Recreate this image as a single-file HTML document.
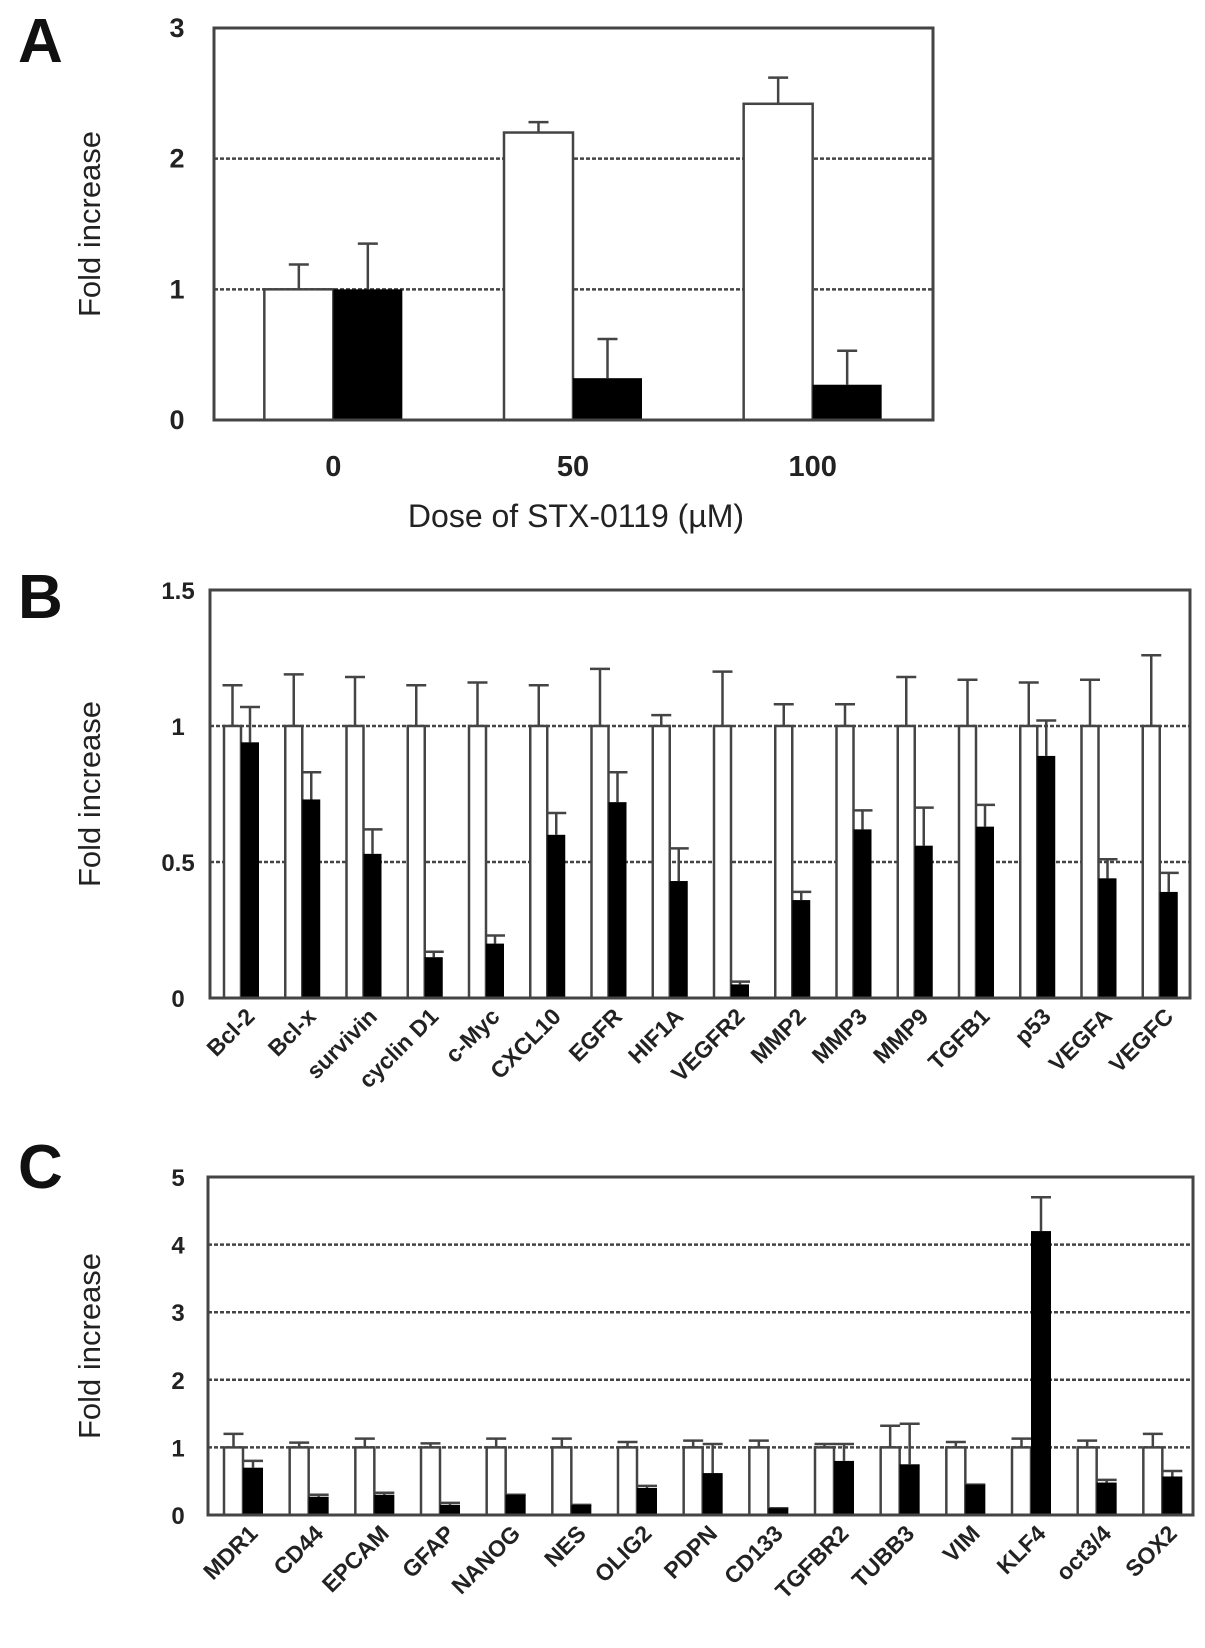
<!DOCTYPE html>
<html><head><meta charset="utf-8"><style>
html,body{margin:0;padding:0;background:#fff;}
svg{display:block;font-family:"Liberation Sans",Arial,sans-serif;}
</style></head><body>
<svg id="fig" width="1205" height="1648" viewBox="0 0 1205 1648" xmlns="http://www.w3.org/2000/svg"></svg>
<script>
const NS="http://www.w3.org/2000/svg";
const svg=document.getElementById('fig');
// Panel A data
const aCats=["0","50","100"];
const aWhite=[1,2.2,2.42];
const aWhiteErr=[1.19,2.28,2.62];
const aBlack=[1,0.32,0.27];
const aBlackErr=[1.35,0.62,0.53];
const aTicks=[0,1,2,3];
// Panel B data
const bCats=["Bcl-2","Bcl-x","survivin","cyclin D1","c-Myc","CXCL10","EGFR","HIF1A","VEGFR2","MMP2","MMP3","MMP9","TGFB1","p53","VEGFA","VEGFC"];
const bWhite=[1,1,1,1,1,1,1,1,1,1,1,1,1,1,1,1];
const bWhiteErr=[1.15,1.19,1.18,1.15,1.16,1.15,1.21,1.04,1.2,1.08,1.08,1.18,1.17,1.16,1.17,1.26];
const bBlack=[0.94,0.73,0.53,0.15,0.2,0.6,0.72,0.43,0.05,0.36,0.62,0.56,0.63,0.89,0.44,0.39];
const bBlackErr=[1.07,0.83,0.62,0.17,0.23,0.68,0.83,0.55,0.06,0.39,0.69,0.7,0.71,1.02,0.51,0.46];
const bTicks=[0,0.5,1,1.5];
const bTickLabels=["0","0.5","1","1.5"];
// Panel C data
const cCats=["MDR1","CD44","EPCAM","GFAP","NANOG","NES","OLIG2","PDPN","CD133","TGFBR2","TUBB3","VIM","KLF4","oct3/4","SOX2"];
const cWhite=[1,1,1,1,1,1,1,1,1,1,1,1,1,1,1];
const cWhiteErr=[1.2,1.07,1.13,1.06,1.13,1.13,1.08,1.1,1.1,1.05,1.32,1.08,1.13,1.1,1.2];
const cBlack=[0.7,0.27,0.3,0.15,0.3,0.15,0.4,0.62,0.1,0.8,0.75,0.45,4.2,0.48,0.57];
const cBlackErr=[0.8,0.3,0.33,0.18,0.3,0.15,0.43,1.05,0.1,1.05,1.35,0.45,4.7,0.52,0.65];
const cTicks=[0,1,2,3,4,5];

function el(tag,attrs,parent,text){const e=document.createElementNS(NS,tag);for(const k in attrs)e.setAttribute(k,attrs[k]);if(text!==undefined)e.textContent=text;(parent||svg).appendChild(e);return e;}

function panel(o){
  const g=el('g',{});
  
  
  const y=v=>o.y0-(v/o.max)*(o.y0-o.y1);
  const n=o.cats.length, gw=(o.x1-o.x0)/n;
  o.ticks.forEach((t,i)=>{
    if(t>0&&t<o.max){const gl=el('line',{x1:o.x0,x2:o.x1,y1:y(t),y2:y(t),stroke:'#444','stroke-width':2.5,'stroke-dasharray':'4,2'},g);
      }
    const tl=el('text',{x:o.tickX,y:y(t)+9,'text-anchor':'middle','font-size':o.tickFs,'font-weight':'bold',fill:'#222'},g,o.tickLabels?o.tickLabels[i]:String(t));
    
  });
  for(let i=0;i<n;i++){
    const gx=o.x0+i*gw;
    const wx=gx+(o.wOff!==undefined?o.wOff:gw*o.wOffF);
    const bx=wx+o.ww;
    const wb=el('rect',{x:wx,y:y(o.white[i]),width:o.ww,height:o.y0-y(o.white[i]),fill:'#fff',stroke:'#444','stroke-width':2.5},g);
    
    const e1=el('path',{d:`M${wx+o.ww/2},${y(o.white[i])}V${y(o.wErr[i])}M${wx+o.ww/2-o.cap},${y(o.wErr[i])}H${wx+o.ww/2+o.cap}`,stroke:'#444','stroke-width':2.5,fill:'none'},g);
    
    const e2=el('path',{d:`M${bx+o.bw/2},${y(o.black[i])}V${y(o.bErr[i])}M${bx+o.bw/2-o.cap},${y(o.bErr[i])}H${bx+o.bw/2+o.cap}`,stroke:'#444','stroke-width':2.5,fill:'none'},g);
    
    const bb=el('rect',{x:bx,y:y(o.black[i]),width:o.bw,height:o.y0-y(o.black[i]),fill:'#000'},g);
    
    let lt;
    if(o.rot){
      const lx=bx+o.bw/2+6, ly=o.y0+20;
      lt=el('text',{x:lx,y:ly,'text-anchor':'end','font-size':o.catFs,'font-weight':'bold',fill:'#222',transform:`rotate(-45 ${lx} ${ly})`},g,o.cats[i]);
    } else {
      lt=el('text',{x:bx,y:o.y0+56,'text-anchor':'middle','font-size':o.catFs,'font-weight':'bold',fill:'#222'},g,o.cats[i]);
    }
    
  }
  const fr=el('rect',{x:o.x0,y:o.y1,width:o.x1-o.x0,height:o.y0-o.y1,fill:'none',stroke:'#444','stroke-width':3},g);
  
  const cy=(o.y0+o.y1)/2;
  const yt=el('text',{x:o.titleX,y:cy,'text-anchor':'middle','font-size':31,fill:'#222',transform:`rotate(-90 ${o.titleX} ${cy})`},g,'Fold increase');
  
  const pl=el('text',{x:o.letterX,y:o.letterY,'font-size':62,'font-weight':'bold',fill:'#111'},g,o.letter);
  
}

panel({name:'panel-a',letter:'A',letterX:18,letterY:62,cats:aCats,white:aWhite,wErr:aWhiteErr,black:aBlack,bErr:aBlackErr,ticks:aTicks,max:3,
  x0:214,x1:933,y0:420,y1:28,wOffF:0.21,ww:69,bw:69,cap:10,tickX:177,tickFs:27,catFs:29,titleX:100,rot:false});
panel({name:'panel-b',letter:'B',letterX:18,letterY:618,cats:bCats,white:bWhite,wErr:bWhiteErr,black:bBlack,bErr:bBlackErr,ticks:bTicks,tickLabels:bTickLabels,max:1.5,
  x0:210,x1:1190,y0:998,y1:590,wOff:14,ww:17,bw:18,cap:10,tickX:178,tickFs:24,catFs:23,titleX:100,rot:true});
panel({name:'panel-c',letter:'C',letterX:18,letterY:1188,cats:cCats,white:cWhite,wErr:cWhiteErr,black:cBlack,bErr:cBlackErr,ticks:cTicks,max:5,
  x0:208,x1:1193,y0:1515,y1:1177,wOff:16,ww:19,bw:20,cap:10,tickX:178,tickFs:24,catFs:23,titleX:100,rot:true});
const xt=el('text',{x:576,y:527,'text-anchor':'middle','font-size':32,fill:'#222'},svg,'Dose of STX-0119  (\u00b5M)');


</script>
</body></html>
